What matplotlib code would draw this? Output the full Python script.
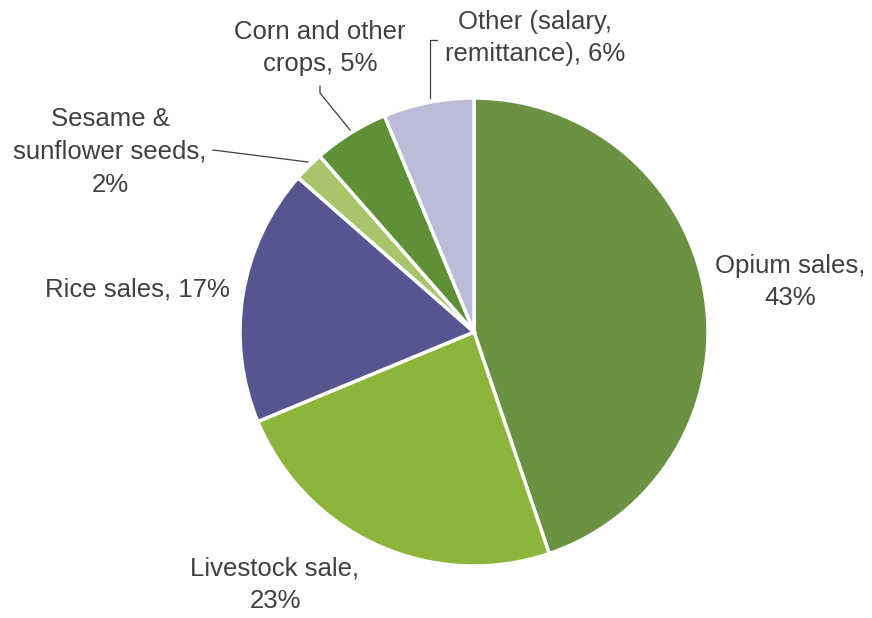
import matplotlib.pyplot as plt

plt.rcParams['font.family'] = ['Liberation Sans', 'DejaVu Sans']

labels = ["Opium sales,\n43%", "Livestock sale,\n23%", "Rice sales, 17%",
          "Sesame &\nsunflower seeds,\n2%", "Corn and other\ncrops, 5%",
          "Other (salary,\nremittance), 6%"]
values = [43, 23, 17, 2, 5, 6]
colors = ["#6b9142", "#8db53c", "#56558f", "#a9c56c", "#5f8f36", "#bdbcd8"]

fig = plt.figure(figsize=(8.72, 6.18), dpi=100)
ax = fig.add_axes([0, 0, 1, 1])

ax.pie(values, colors=colors, startangle=90, counterclock=False,
       center=(474, 286), radius=234, frame=True,
       wedgeprops=dict(edgecolor='white', linewidth=2.5))
ax.set_xlim(0, 872)
ax.set_ylim(0, 618)
ax.set_aspect('equal')
ax.axis('off')

txt = dict(fontsize=18.5, color='#404040', ha='center', va='center', linespacing=1.45)
ax.text(790, 336, labels[0], **txt)
ax.text(275, 33, labels[1], **txt)
ax.text(137, 328, labels[2], **txt)
ax.text(110, 466, labels[3], **txt)
ax.text(320, 570, labels[4], **txt)
ax.text(535, 580, labels[5], **txt)

# leader lines
lc = dict(color='#404040', linewidth=0.9)
ax.plot([430, 430, 437], [520, 578, 578], **lc)
ax.plot([350, 320, 320], [488, 525, 532], **lc)
ax.plot([308, 213], [456, 468], **lc)

fig.savefig("out.png", dpi=100)
